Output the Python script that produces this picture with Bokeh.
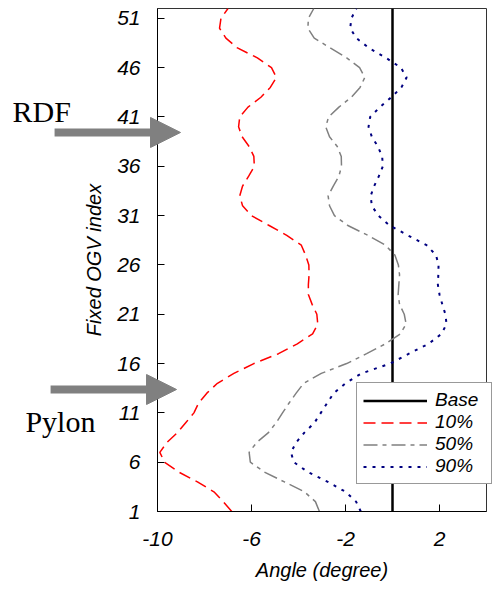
from bokeh.plotting import figure
from bokeh.models import Range1d, FixedTicker, Arrow, NormalHead, Label, Legend, LegendItem
from bokeh.layouts import column
from bokeh.embed import file_html
from bokeh.resources import INLINE

# ---- data ----
ogv_index = list(range(1, 53))

angle_10 = [-6.84, -7.2, -7.6, -8.3, -9.1, -9.7, -9.9, -9.6, -9.15, -8.8,
            -8.45, -8.25, -7.9, -7.45, -6.75, -5.9, -4.85, -4.05, -3.4, -3.18,
            -3.22, -3.42, -3.58, -3.58, -3.55, -3.56, -3.7, -3.88, -4.5, -5.25,
            -6.0, -6.38, -6.5, -6.38, -6.12, -5.88, -5.9, -6.1, -6.4, -6.55,
            -6.5, -6.15, -5.6, -5.2, -4.94, -5.15, -5.75, -6.6, -7.09, -7.36,
            -7.3, -7.0]

angle_50 = [-3.11, -3.28, -3.75, -4.6, -5.45, -6.05, -6.1, -5.78, -5.28, -4.95,
            -4.68, -4.4, -4.1, -3.78, -3.03, -1.95, -1.1, -0.3, 0.33, 0.58,
            0.5, 0.3, 0.24, 0.27, 0.3, 0.25, 0.1, -0.3, -1.05, -1.9,
            -2.47, -2.68, -2.74, -2.52, -2.28, -2.17, -2.18, -2.35, -2.68, -2.84,
            -2.72, -2.28, -1.75, -1.38, -1.18, -1.4, -1.95, -2.65, -3.33, -3.6,
            -3.58, -3.35]

angle_90 = [-1.35, -1.55, -2.0, -2.75, -3.6, -4.2, -4.32, -4.1, -3.75, -3.32,
            -3.05, -2.78, -2.5, -2.0, -1.32, -0.1, 0.7, 1.53, 2.08, 2.3,
            2.25, 2.12, 2.0, 1.93, 1.95, 1.96, 1.85, 1.45, 0.65, -0.12,
            -0.6, -0.88, -0.93, -0.78, -0.58, -0.41, -0.44, -0.62, -0.88, -1.02,
            -0.95, -0.54, -0.05, 0.38, 0.6, 0.36, -0.28, -1.0, -1.54, -1.8,
            -1.75, -1.54]

base_angle = [0.0, 0.0]
base_index = [1, 52]

x_ticks = [-10, -6, -2, 2]
x_tick_labels = {-10: "-10", -6: "-6", -2: "-2", 2: "2"}
y_ticks = [1, 6, 11, 16, 21, 26, 31, 36, 41, 46, 51]

series_labels = ["Base", "10%", "50%", "90%"]
series_colors = ["black", "#FF0000", "#808080", "#000080"]
series_widths = [2.5, 1.5, 1.5, 2.0]
series_dashes = ["solid", "12 6", "14 5 4 5", "3 6"]

# annotated locations (index on the y axis)
rdf_index = 39.43
pylon_index = 13.37

W, H = 500, 590
ML, MR, MT, MB = 157, 14, 8, 79
X0, X1, Y0, Y1 = -10, 4, 1, 52

# ---- main figure ----
p = figure(width=W, height=H, output_backend="svg", toolbar_location=None,
           x_range=Range1d(X0, X1), y_range=Range1d(Y0, Y1),
           min_border_left=ML, min_border_right=MR, min_border_top=MT,
           min_border_bottom=MB, background_fill_color="white")
p.frame_align = False
p.grid.visible = False
p.outline_line_color = "#333333"
p.outline_line_width = 1

series = [(base_angle, base_index), (angle_10, ogv_index),
          (angle_50, ogv_index), (angle_90, ogv_index)]
for (xs, ys), c, w, d in zip(series, series_colors, series_widths, series_dashes):
    p.line(xs, ys, line_color=c, line_width=w, line_dash=d)

font = "Liberation Sans"
for ax in (p.xaxis[0], p.yaxis[0]):
    ax.major_tick_in = 7
    ax.major_tick_out = 0
    ax.minor_tick_in = 0
    ax.minor_tick_out = 0
    ax.axis_line_color = "black"
    ax.major_tick_line_color = "black"
    ax.major_label_text_font = font
    ax.major_label_text_font_style = "italic"
    ax.major_label_text_font_size = "21px"
    ax.major_label_text_color = "black"
    ax.axis_label_text_font = font
    ax.axis_label_text_font_style = "italic"
    ax.axis_label_text_font_size = "20px"
    ax.axis_label_text_color = "black"

p.xaxis.ticker = FixedTicker(ticks=x_ticks)
p.xaxis.major_label_overrides = x_tick_labels
p.yaxis.ticker = FixedTicker(ticks=y_ticks)
p.xaxis.axis_label = "Angle (degree)"
p.yaxis.axis_label = "Fixed OGV index"
p.xaxis.major_label_standoff = 20
p.xaxis.axis_label_standoff = 10
p.yaxis.major_label_standoff = 17
p.yaxis.axis_label_standoff = 9

# ---- transparent overlay with the same data mapping, spanning the whole canvas ----
sx = (W - ML - MR) / (X1 - X0)
sy = (H - MT - MB) / (Y1 - Y0)
q = figure(width=W, height=H, output_backend="svg", toolbar_location=None,
           x_range=Range1d(X0 - ML / sx, X1 + MR / sx),
           y_range=Range1d(Y0 - MB / sy, Y1 + MT / sy),
           x_axis_location=None, y_axis_location=None,
           min_border=0, margin=(-H, 0, 0, 0))
q.frame_align = False
q.grid.visible = False
q.outline_line_color = None
q.background_fill_alpha = 0
q.border_fill_alpha = 0

# legend entries (renderers hidden here; the visible lines are in the main figure)
items = []
for (xs, ys), lab, c, w, d in zip(series, series_labels, series_colors,
                                  series_widths, series_dashes):
    r = q.line(xs, ys, line_color=c, line_width=w, line_dash=d, visible=False)
    items.append(LegendItem(label=lab, renderers=[r]))

lg = Legend(items=items, location=(356, 106))
lg.padding = 6
lg.spacing = -6
lg.margin = 0
lg.glyph_width = 64
lg.glyph_height = 19
lg.label_height = 19
lg.label_width = 50
lg.label_standoff = 8
lg.label_text_font = font
lg.label_text_font_style = "italic"
lg.label_text_font_size = "19px"
lg.label_text_color = "black"
lg.border_line_color = "#333333"
lg.border_line_width = 1
lg.background_fill_color = "white"
lg.background_fill_alpha = 1.0
q.add_layout(lg)

gray = "#808080"
for yv, xs, xe in [(rdf_index, -14.38, -9.02), (pylon_index, -14.55, -9.19)]:
    q.add_layout(Arrow(end=NormalHead(size=30, fill_color=gray, line_color=gray),
                       x_start=xs, y_start=yv, x_end=xe, y_end=yv,
                       line_width=8, line_color=gray))

q.add_layout(Label(x=-16.17, y=41.55, text="RDF", text_font="Liberation Serif",
                   text_font_size="30px", text_baseline="alphabetic",
                   text_color="black"))
q.add_layout(Label(x=-15.62, y=10.12, text="Pylon", text_font="Liberation Serif",
                   text_font_size="30px", text_baseline="alphabetic",
                   text_color="black"))

layout = column(p, q)
open("out.html", "w").write(file_html(layout, INLINE))
